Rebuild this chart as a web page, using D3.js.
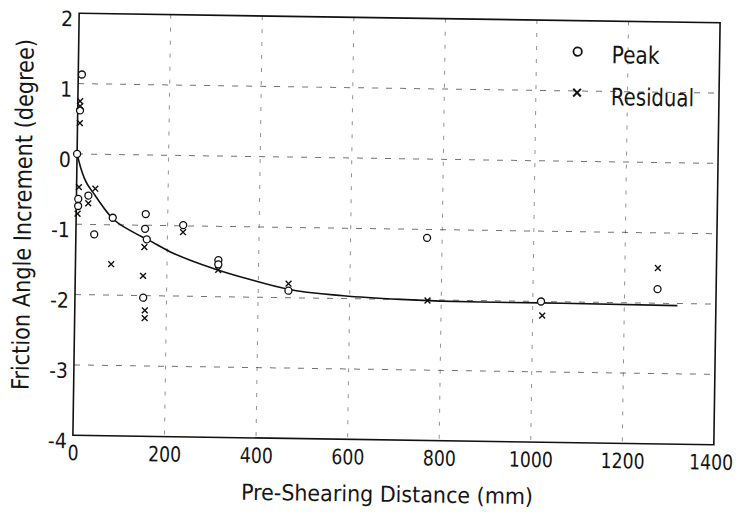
<html>
<head>
<script src="https://d3js.org/d3.v7.min.js"></script>
<style>
  body { margin: 0; background: #fff; }
  text { font-family: "DejaVu Sans Condensed", "DejaVu Sans", sans-serif; fill: #151515; }
</style>
</head>
<body>
<svg width="736" height="512"></svg>
<script>
// tick labels
var xTicks = [0, 200, 400, 600, 800, 1000, 1200, 1400];
var yTicks = [-4, -3, -2, -1, 0, 1, 2];

// peak points (mm, degree)
var peakX = [8, 5, 0, 4, 4, 26, 40, 80, 152, 151, 155, 149, 234, 312, 312, 466, 767, 1018, 1272];
var peakY = [1.13, 0.62, 0.0, -0.64, -0.74, -0.59, -1.14, -0.90, -0.84, -1.05, -1.20, -2.03, -0.99, -1.48, -1.54, -1.90, -1.12, -2.00, -1.80];

// residual points
var resX = [5, 5, 5, 5, 3, 26, 41, 78, 150, 148, 153, 153, 234, 312, 466, 770, 1021, 1272];
var resY = [0.75, 0.68, 0.44, -0.47, -0.85, -0.70, -0.49, -1.56, -1.31, -1.72, -2.21, -2.32, -1.09, -1.62, -1.80, -2.01, -2.20, -1.50];

// fitted curve
var curveX = [0, 8, 17, 40, 78, 125, 156, 206, 301, 382, 465, 586, 711, 886, 1016, 1316];
var curveY = [0, -0.19, -0.35, -0.58, -0.90, -1.10, -1.20, -1.37, -1.60, -1.75, -1.88, -1.96, -2.00, -2.02, -2.02, -2.03];

var svg = d3.select("svg"),
    plotLeft = 76, plotRight = 717, plotTop = 18, plotBottom = 440;

var x = d3.scaleLinear().domain([0, 1400]).range([plotLeft, plotRight]);
var y = d3.scaleLinear().domain([-4, 2]).range([plotBottom, plotTop]);

// the scanned figure is slightly tilted
var g = svg.append("g")
    .attr("transform", "rotate(0.85," + (plotLeft + plotRight) / 2 + "," + (plotTop + plotBottom) / 2 + ")");

// dashed grid
g.selectAll(".vgrid")
  .data(xTicks.filter(function(d){ return d > 0 && d < 1400; }))
  .enter().append("line")
  .attr("class", "vgrid")
  .attr("x1", function(d){ return x(d); })
  .attr("x2", function(d){ return x(d); })
  .attr("y1", plotTop).attr("y2", plotBottom)
  .attr("stroke", "#666").attr("stroke-width", 1)
  .attr("stroke-dasharray", "4,9").attr("opacity", 0.7);

g.selectAll(".hgrid")
  .data(yTicks.filter(function(d){ return d > -4 && d < 2; }))
  .enter().append("line")
  .attr("class", "hgrid")
  .attr("x1", plotLeft).attr("x2", plotRight)
  .attr("y1", function(d){ return y(d); })
  .attr("y2", function(d){ return y(d); })
  .attr("stroke", "#444").attr("stroke-width", 1)
  .attr("stroke-dasharray", "6,8").attr("opacity", 0.75);

// axes (labels only, frame drawn below)
var xAxis = g.append("g")
  .attr("transform", "translate(0," + plotBottom + ")")
  .call(d3.axisBottom(x).tickValues(xTicks).tickSize(0).tickPadding(10).tickFormat(d3.format("d")));
var yAxis = g.append("g")
  .attr("transform", "translate(" + plotLeft + ",0)")
  .call(d3.axisLeft(y).tickValues(yTicks).tickSize(0).tickPadding(6).tickFormat(function(d){ return d; }));

g.selectAll(".domain").remove();
g.selectAll(".tick text")
  .attr("font-family", '"DejaVu Sans Condensed", "DejaVu Sans", sans-serif')
  .attr("font-size", 21)
  .attr("fill", "#151515");
yAxis.selectAll(".tick text").attr("dy", "0.6em");
xAxis.selectAll(".tick text")
  .attr("textLength", function(d){ return String(d).length * 11; })
  .attr("lengthAdjust", "spacingAndGlyphs")
  .attr("dx", function(d){ return d === 1400 ? -3 : 0; });

// frame
g.append("rect")
  .attr("x", plotLeft).attr("y", plotTop)
  .attr("width", plotRight - plotLeft).attr("height", plotBottom - plotTop)
  .attr("fill", "none").attr("stroke", "#111").attr("stroke-width", 1.6);

// curve
var line = d3.line()
  .x(function(d){ return x(d[0]); })
  .y(function(d){ return y(d[1]); })
  .curve(d3.curveMonotoneX);

g.append("path")
  .datum(curveX.map(function(d, i){ return [d, curveY[i]]; }))
  .attr("d", line)
  .attr("fill", "none").attr("stroke", "#111").attr("stroke-width", 1.6);

// peak markers
g.selectAll(".peak")
  .data(peakX.map(function(d, i){ return [d, peakY[i]]; }))
  .enter().append("circle")
  .attr("class", "peak")
  .attr("cx", function(d){ return x(d[0]); })
  .attr("cy", function(d){ return y(d[1]); })
  .attr("r", 3.5)
  .attr("fill", "#fff").attr("stroke", "#111").attr("stroke-width", 1.3);

// residual markers
var cross = d3.symbol().type(d3.symbolX).size(24);
g.selectAll(".res")
  .data(resX.map(function(d, i){ return [d, resY[i]]; }))
  .enter().append("path")
  .attr("class", "res")
  .attr("transform", function(d){ return "translate(" + x(d[0]) + "," + y(d[1]) + ")"; })
  .attr("d", cross)
  .attr("fill", "none").attr("stroke", "#111").attr("stroke-width", 1.4);

// legend
g.append("circle").attr("cx", 575).attr("cy", 49).attr("r", 4.2)
  .attr("fill", "none").attr("stroke", "#111").attr("stroke-width", 1.8);
g.append("text").attr("x", 609).attr("y", 60)
  .attr("font-size", 24).attr("textLength", 48).attr("lengthAdjust", "spacingAndGlyphs")
  .text("Peak");
g.append("path").attr("transform", "translate(575,90)")
  .attr("d", d3.symbol().type(d3.symbolX).size(40))
  .attr("fill", "none").attr("stroke", "#111").attr("stroke-width", 2);
g.append("text").attr("x", 609).attr("y", 102)
  .attr("font-size", 24).attr("textLength", 83).attr("lengthAdjust", "spacingAndGlyphs")
  .text("Residual");

// axis titles
g.append("text")
  .attr("x", 391).attr("y", 502)
  .attr("text-anchor", "middle")
  .attr("font-size", 22).attr("textLength", 292).attr("lengthAdjust", "spacingAndGlyphs")
  .text("Pre-Shearing Distance (mm)");

g.append("text")
  .attr("transform", "translate(31,220) rotate(-90)")
  .attr("text-anchor", "middle")
  .attr("font-size", 24).attr("textLength", 351).attr("lengthAdjust", "spacingAndGlyphs")
  .text("Friction Angle Increment (degree)");
</script>
</body>
</html>
